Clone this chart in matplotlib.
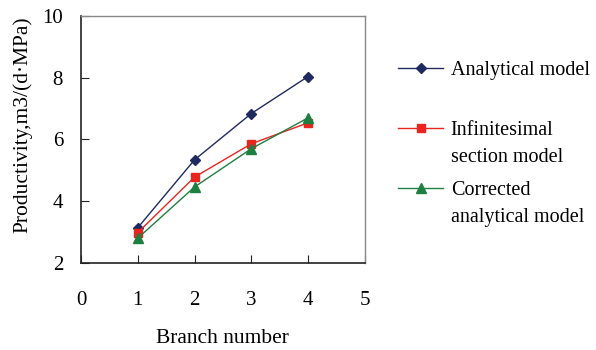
import matplotlib.pyplot as plt

plt.rcParams['font.family'] = ['Liberation Serif', 'DejaVu Serif']

# Data
branches = [1, 2, 3, 4]
analytical = [3.14, 5.34, 6.84, 8.04]
infinitesimal = [2.98, 4.78, 5.86, 6.54]
corrected = [2.80, 4.46, 5.70, 6.70]

# legend labels: first line goes next to the marker, second line below it
first_lines = ['Analytical model', 'Infinitesimal', 'Corrected']
second_lines = [None, 'section model', 'analytical model']

fig = plt.figure(figsize=(5.96, 3.5), dpi=100)
ax = fig.add_axes([0.136, 0.249, 0.476, 0.705])

ax.plot(branches, analytical, color='#1f2a60', marker='D', markersize=5, lw=1,
        label=first_lines[0])
ax.plot(branches, infinitesimal, color='#e8251f', marker='s', markersize=6, lw=1,
        label=first_lines[1])
ax.plot(branches, corrected, color='#1e8040', marker='^', markersize=7, lw=1,
        label=first_lines[2])

ax.set_xlim(0, 5)
ax.set_ylim(2, 10)
ax.set_xticks([0, 1, 2, 3, 4, 5])
ax.set_yticks([2, 4, 6, 8, 10])
ax.tick_params(direction='in', length=6, labelsize=15, color='#222222')
ax.tick_params(axis='x', pad=20)
ax.tick_params(axis='y', pad=13)
for s in ['left', 'bottom']:
    ax.spines[s].set_color('#222222')
    ax.spines[s].set_linewidth(1.2)
for s in ['top', 'right']:
    ax.spines[s].set_color('#888888')
    ax.spines[s].set_linewidth(1.0)

ax.set_xlabel('Branch number', fontsize=15.5, labelpad=14)
ax.set_ylabel('Productivity,m3/(d\u00b7MPa)', fontsize=15.5)
ax.yaxis.set_label_coords(-0.172, 0.56)

leg = fig.legend(loc='upper left', bbox_to_anchor=(0.655, 0.85), frameon=False,
                 fontsize=14.5, labelspacing=2.05, handlelength=2.2,
                 handletextpad=0.4, borderaxespad=0)

# add the second line of the two-line labels under the legend text
fig.canvas.draw()
inv = fig.transFigure.inverted()
for txt, extra in zip(leg.get_texts(), second_lines):
    if extra is None:
        continue
    bb = txt.get_window_extent()
    x0, y0 = inv.transform((bb.x0, bb.y0 - 27))
    fig.text(x0, y0, extra, fontsize=14.5, ha='left', va='bottom')

fig.savefig('out.png', dpi=100)
